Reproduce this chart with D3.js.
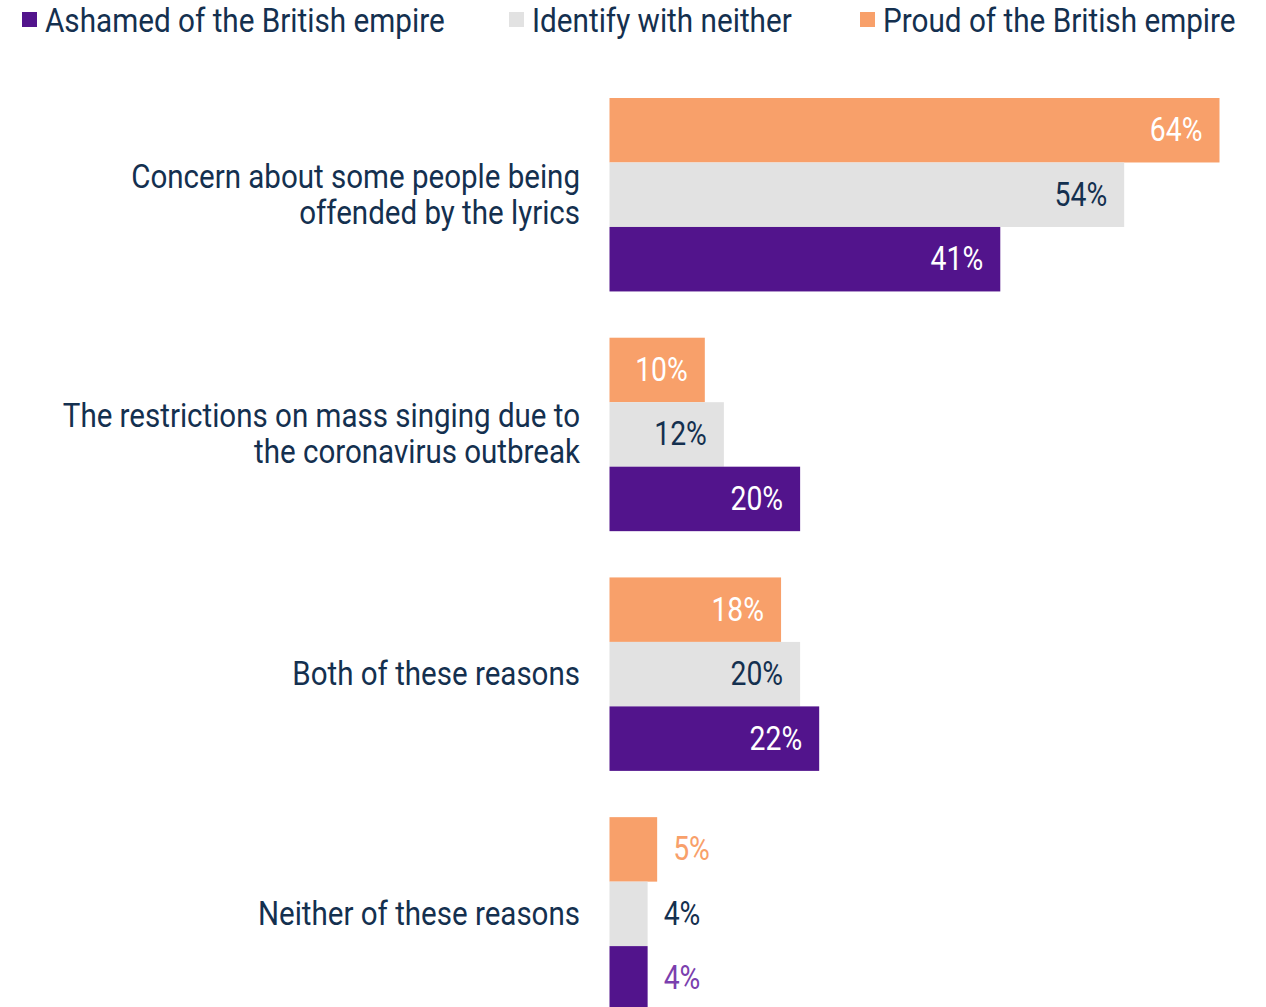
<!DOCTYPE html>
<html>
<head>
<meta charset="utf-8">
<script src="https://cdn.jsdelivr.net/npm/d3@7"></script>
<style>
  body { margin: 0; background: #fff; }
  text { font-family: "Roboto", sans-serif; }
</style>
</head>
<body>
<div id="chart"></div>
<script>
'use strict';

const categories = [
  ["Concern about some people being", "offended by the lyrics"],
  ["The restrictions on mass singing due to", "the coronavirus outbreak"],
  ["Both of these reasons"],
  ["Neither of these reasons"]
];
const seriesNames = ["Proud of the British empire", "Identify with neither", "Ashamed of the British empire"];
const proud = [64, 10, 18, 5];
const neither = [54, 12, 20, 4];
const ashamed = [41, 20, 22, 4];
const legendOrder = ["Ashamed of the British empire", "Identify with neither", "Proud of the British empire"];

const colors = {
  "Proud of the British empire": "#F8A06A",
  "Identify with neither": "#E2E2E2",
  "Ashamed of the British empire": "#52148C"
};
const insideText = {
  "Proud of the British empire": "#ffffff",
  "Identify with neither": "#14304F",
  "Ashamed of the British empire": "#ffffff"
};
const outsideText = {
  "Proud of the British empire": "#F8A06A",
  "Identify with neither": "#14304F",
  "Ashamed of the British empire": "#7B3FAE"
};
const navy = "#14304F";

const values = [proud, neither, ashamed];
const rows = categories.map((c, i) => ({
  idx: i,
  label: c,
  vals: seriesNames.map((s, j) => ({ series: s, value: values[j][i] }))
}));

const width = 1266, height = 1007;
const svg = d3.select("#chart").append("svg")
  .attr("width", width)
  .attr("height", height);

// draw condensed text: a group placed at (x,y) and squeezed horizontally
// (the original font is a condensed face)
function condensed(parent, px, py, sx) {
  return parent.append("g")
    .attr("transform", "translate(" + px + "," + py + ") scale(" + sx + ",1)")
    .append("text");
}

// scales
const x = d3.scaleLinear().domain([0, 64]).range([609.5, 1219.5]);
const y0 = d3.scaleBand()
  .domain(rows.map(d => d.idx))
  .range([98, 1010.6])
  .paddingInner(0.193)
  .paddingOuter(0);
const y1 = d3.scaleBand()
  .domain(seriesNames)
  .range([0, y0.bandwidth()])
  .padding(0);

// legend
const legendX = [22, 509, 860];
legendOrder.forEach(function(d, i) {
  const g = svg.append("g").attr("transform", "translate(" + legendX[i] + ",0)");
  g.append("rect")
    .attr("x", 0)
    .attr("y", 12)
    .attr("width", 15)
    .attr("height", 15)
    .style("fill", colors[d]);
  condensed(g, 23, 32, 0.9)
    .style("font-size", "33px")
    .style("fill", navy)
    .text(d);
});

// groups
const group = svg.append("g").selectAll("g")
  .data(rows)
  .enter()
  .append("g")
  .attr("transform", d => "translate(0," + y0(d.idx) + ")");

// category labels
group.each(function(d) {
  const g = d3.select(this);
  const mid = y0.bandwidth() / 2;
  const lh = 36;
  const n = d.label.length;
  d.label.forEach(function(t, k) {
    condensed(g, 580, mid + 11 + (k - (n - 1) / 2) * lh, 0.895)
      .attr("text-anchor", "end")
      .style("font-size", "33px")
      .style("fill", navy)
      .text(t);
  });
});

// bars
group.selectAll("rect")
  .data(d => d.vals)
  .enter()
  .append("rect")
  .attr("x", x(0))
  .attr("y", d => y1(d.series))
  .attr("width", d => x(d.value) - x(0))
  .attr("height", y1.bandwidth())
  .style("fill", d => colors[d.series]);

// value labels
group.each(function(d) {
  const g = d3.select(this);
  d.vals.forEach(function(v) {
    const inside = v.value >= 10;
    condensed(g, inside ? x(v.value) - 17 : x(v.value) + 16, y1(v.series) + y1.bandwidth() / 2 + 11, 0.86)
      .attr("text-anchor", inside ? "end" : "start")
      .style("font-size", "33px")
      .style("fill", inside ? insideText[v.series] : outsideText[v.series])
      .text(v.value + "%");
  });
});
</script>
</body>
</html>
